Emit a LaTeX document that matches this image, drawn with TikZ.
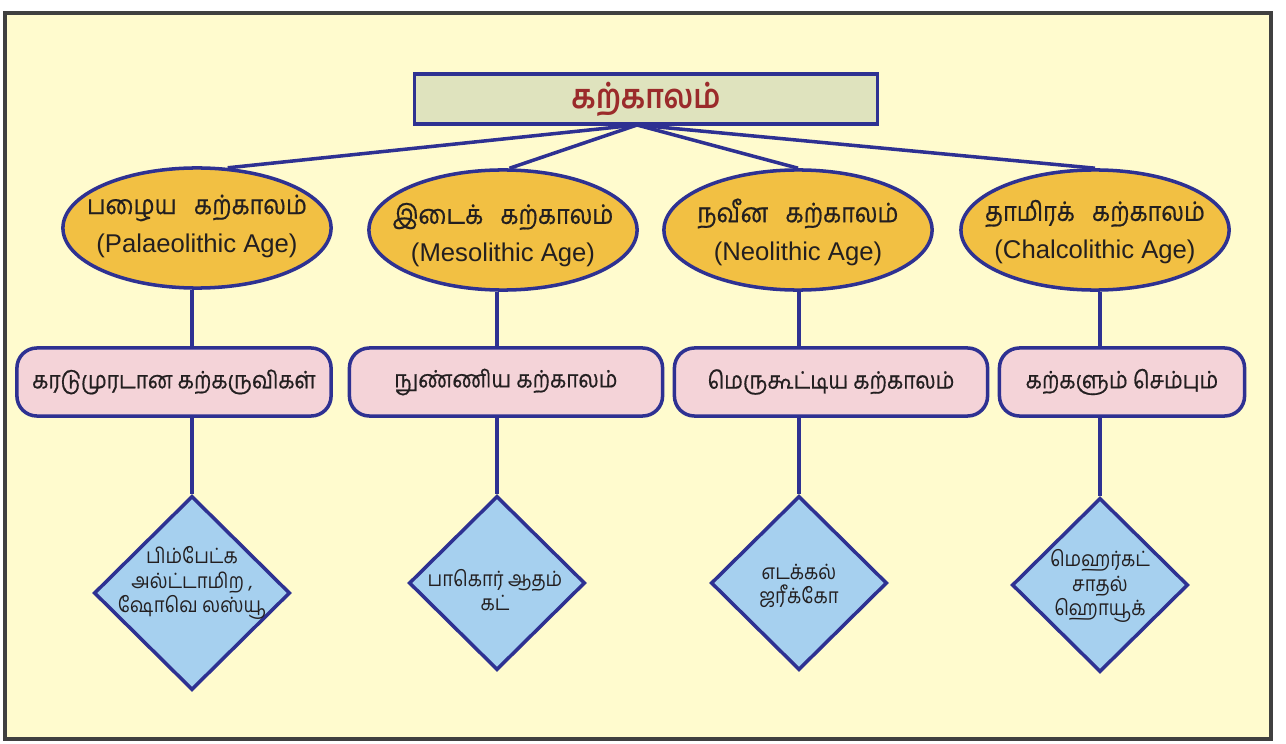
\documentclass[tikz,border=0pt]{standalone}
\usepackage{fontspec}
\setmainfont[Script=Tamil,FakeStretch=0.88]{Hind Madurai}
\newfontfamily\tamilbold[Script=Tamil,FakeStretch=0.88,FakeBold=0.6]{Hind Madurai}
\newfontfamily\engfont{Liberation Sans}
\usepackage{tikz}
\usetikzlibrary{shapes}
\usetikzlibrary{positioning}
\definecolor{paper}{HTML}{FFFBCE}
\definecolor{navy}{HTML}{2E3192}
\definecolor{olive}{HTML}{DFE3BE}
\definecolor{titlered}{HTML}{9B2B2B}
\definecolor{gold}{HTML}{F2C043}
\definecolor{rose}{HTML}{F4D3D8}
\definecolor{sky}{HTML}{A6D0EF}
\definecolor{ink}{HTML}{231F20}

\begin{document}
\begin{tikzpicture}[x=0.01cm,y=-0.01cm,line width=1pt]
  \tikzstyle{head}=[rectangle,draw=navy,fill=olive,inner sep=0pt,
                    minimum width=4.63cm,minimum height=0.5cm,text=titlered,
                    font=\fontsize{9.6}{11}\selectfont\bfseries]
  \tikzstyle{age}=[ellipse,draw=navy,fill=gold,inner sep=0pt,
                   minimum width=2.68cm,minimum height=1.2cm]
  \tikzstyle{agetext}=[align=center,text=ink,inner sep=0pt,
                       font=\tamilbold\fontsize{7.6}{10.8}\selectfont]
  \tikzstyle{tool}=[rectangle,rounded corners=0.2cm,draw=navy,fill=rose,
                    inner sep=0pt,minimum height=0.68cm,text=ink,
                    font=\tamilbold\fontsize{6.8}{9}\selectfont]
  \tikzstyle{site}=[diamond,draw=navy,fill=sky,inner sep=0pt,
                    minimum width=1.76cm,minimum height=1.74cm]
  \tikzstyle{sitetext}=[align=center,text=ink,inner sep=0pt,
                        font=\fontsize{6}{7}\selectfont]
  \tikzstyle{link}=[draw=navy]

  % frame
  \useasboundingbox (0,0) rectangle (1286,743);
  \draw[fill=paper,draw=black!75,line width=1pt] (5,13) rectangle (1271,739);

  % title and the four ages
  \node[head] (top) at (646,99) {கற்காலம்};
  \coordinate (hub) at (637,125);

  \node[age] (palaeo) at (197,228) {};
  \node[age] (meso) at (503,230) {};
  \node[age] (neo) at (798,230) {};
  \node[age] (chalco) at (1095,230) {};

  \node[agetext] (palaeotext) at (197,226) {பழைய\ \ \ கற்காலம்\\{\engfont\fontsize{7.3}{10.8}\selectfont (Palaeolithic Age)}};
  \node[agetext] (mesotext) at (503,235) {இடைக்\ \ \ கற்காலம்\\{\engfont\fontsize{7.3}{10.8}\selectfont (Mesolithic Age)}};
  \node[agetext] (neotext) at (798,232) {நவீன\ \ \ கற்காலம்\\{\engfont\fontsize{7.3}{10.8}\selectfont (Neolithic Age)}};
  \node[agetext] (chalcotext) at (1095,232) {தாமிரக்\ \ \ கற்காலம்\\{\engfont\fontsize{7.3}{10.8}\selectfont (Chalcolithic Age)}};

  \draw[link] (hub) -- (palaeo.63);
  \draw[link] (hub) -- (meso.84);
  \draw[link] (hub) -- (neo.north);
  \draw[link] (hub) -- (chalco.north);

  % tools
  \node[tool,minimum width=3.14cm] (rough) at (174,382) {கரடுமுரடான கற்கருவிகள்};
  \node[tool,minimum width=3.13cm] (micro) at (506,382) {நுண்ணிய கற்காலம்\hspace{0.35cm}};
  \node[tool,minimum width=3.13cm] (polish) at (831,382) {மெருகூட்டிய கற்காலம்};
  \node[tool,minimum width=2.45cm] (copper) at (1122,382) {\raisebox{-0.06cm}{கற்களும் செம்பும்}};

  % sites
  \node[site,minimum width=1.96cm,minimum height=1.94cm] (bhim) at (192,593) {};
  \node[site] (bagor) at (497,583) {};
  \node[site] (edakkal) at (799,583) {};
  \node[site] (mehr) at (1100,585) {};

  \node[sitetext] (bhimtext) at (192,583) {பிம்பேட்க\\அல்ட்டாமிற ,\\ஷோவெ லஸ்யூ};
  \node[sitetext] (bagortext) at (495,590) {பாகொர் ஆதம்\\கட்};
  \node[sitetext] (edakkaltext) at (799,586) {எடக்கல்\\ஜரீக்கோ};
  \node[sitetext] (mehrtext) at (1100,586) {மெஹர்கட்\\சாதல்\\ஹொயூக்};

  \foreach \age/\tool/\site in {palaeo/rough/bhim,meso/micro/bagor,
                                neo/polish/edakkal,chalco/copper/mehr}{
    \draw[link] (\site.north |- \age.south) -- (\site.north |- \tool.north);
    \draw[link] (\site.north |- \tool.south) -- (\site.north);
  }
\end{tikzpicture}
\end{document}
